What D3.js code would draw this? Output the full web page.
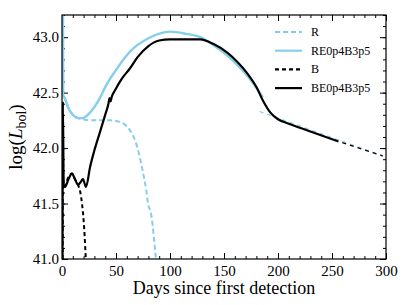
<!DOCTYPE html>
<html>
<head>
<meta charset="utf-8">
<script src="https://cdn.jsdelivr.net/npm/d3@7"></script>
<style>
    body { margin: 0; background: #fff; }
    svg { display: block; font-family: "Liberation Serif", "DejaVu Serif", serif; }
</style>
</head>
<body>
<div id="chart"></div>
<script>
const margins = {
    top: 15,
    left: 62,
    right: 21,
    bottom: 46
}
const width = 407 - margins.left - margins.right;
const height = 305 - margins.top - margins.bottom;
const serif = "'Liberation Serif', 'DejaVu Serif', serif";

const blue = "#87ceeb";

// curves (days since detection, log L_bol)
const rDays = [0.9, 1.1, 3, 6, 10, 15, 19, 25, 35, 45, 52, 57, 63, 68, 72, 75, 78, 80, 82, 84, 85.5, 87];
const rLog = [43.4, 42.48, 42.44, 42.36, 42.3, 42.27, 42.26, 42.25, 42.25, 42.25, 42.24, 42.22, 42.16, 42.06, 41.92, 41.78, 41.62, 41.48, 41.43, 41.3, 41.15, 41.0];

const reDays = [0.9, 1.1, 3, 6, 10, 15, 19, 25, 30, 35, 40, 49, 63, 80, 100, 115, 128, 140, 156, 170, 186];
const reLog = [43.4, 42.48, 42.44, 42.36, 42.3, 42.27, 42.27, 42.31, 42.37, 42.45, 42.55, 42.69, 42.87, 42.99, 43.05, 43.03, 43.0, 42.93, 42.81, 42.67, 42.46];

const bDays = [0.6, 0.8, 1.3, 2.8, 6, 9.3, 12, 14.8, 17, 18.5, 20, 21, 22];
const bLog = [41.0, 42.0, 41.63, 41.66, 41.74, 41.77, 41.72, 41.67, 41.6, 41.5, 41.35, 41.2, 41.0];

const beDays = [0.5, 0.8, 1.6, 2.8, 6, 9.3, 12, 14.8, 17, 19.4, 22.2, 26, 30, 35, 40, 43, 44, 45, 46, 49, 55, 63, 70, 80, 90, 100, 115, 128, 140, 153, 162, 171, 180, 186, 193, 200, 210, 230, 256];
const beLog = [41.0, 42.42, 41.66, 41.65, 41.72, 41.77, 41.72, 41.67, 41.69, 41.72, 41.65, 41.83, 41.98, 42.14, 42.3, 42.4, 42.45, 42.42, 42.46, 42.52, 42.62, 42.72, 42.82, 42.92, 42.97, 42.98, 42.98, 42.98, 42.94, 42.86, 42.78, 42.68, 42.55, 42.43, 42.32, 42.26, 42.22, 42.15, 42.06];

// thin dashed late-time tail
const tailDays = [183, 297];
const tailLog = [42.33, 41.93];

const legendNames = ["R", "RE0p4B3p5", "B", "BE0p4B3p5"];
const legendColors = [blue, blue, "#000", "#000"];
const legendDashes = ["5,3", null, "4,3", null];

const xMajor = [0, 50, 100, 150, 200, 250, 300];
const xMinor = d3.range(0, 301, 10);
const yMajor = [41.0, 41.5, 42.0, 42.5, 43.0];
const yMinor = d3.range(41.0, 43.21, 0.1);

const svg = d3.select("#chart")
    .append("svg")
        .attr("width", width + margins.left + margins.right)
        .attr("height", height + margins.top + margins.bottom);

const chart = svg.append("g")
    .attr("transform", `translate(${margins.left}, ${margins.top})`);

const x = d3.scaleLinear().domain([0, 300]).range([0, width]);
const y = d3.scaleLinear().domain([41.0, 43.2]).range([height, 0]);

chart.append("clipPath")
    .attr("id", "plotClip")
    .append("rect")
        .attr("width", width)
        .attr("height", height);

// axes: inward ticks on all four sides, no domain line (frame drawn later)
function styleAxis(g) {
    g.attr("font-family", serif).attr("font-size", 15);
    g.select(".domain").remove();
    g.selectAll("line").attr("stroke", "#000");
    g.selectAll("text")
        .attr("fill", "#000")
        .style("font-family", serif)
        .style("font-size", "15px");
}

chart.append("g")
    .attr("transform", `translate(0, ${height})`)
    .call(d3.axisBottom(x).tickValues(xMajor).tickSizeInner(-6).tickSizeOuter(0).tickPadding(6))
    .call(styleAxis);
chart.append("g")
    .attr("transform", `translate(0, ${height})`)
    .call(d3.axisBottom(x).tickValues(xMinor).tickSizeInner(-3).tickSizeOuter(0).tickFormat(""))
    .call(styleAxis);
chart.append("g")
    .call(d3.axisTop(x).tickValues(xMajor).tickSizeInner(-6).tickSizeOuter(0).tickFormat(""))
    .call(styleAxis);
chart.append("g")
    .call(d3.axisTop(x).tickValues(xMinor).tickSizeInner(-3).tickSizeOuter(0).tickFormat(""))
    .call(styleAxis);

chart.append("g")
    .call(d3.axisLeft(y).tickValues(yMajor).tickSizeInner(-6).tickSizeOuter(0).tickPadding(3).tickFormat(d3.format(".1f")))
    .call(styleAxis);
chart.append("g")
    .call(d3.axisLeft(y).tickValues(yMinor).tickSizeInner(-3).tickSizeOuter(0).tickFormat(""))
    .call(styleAxis);
chart.append("g")
    .attr("transform", `translate(${width}, 0)`)
    .call(d3.axisRight(y).tickValues(yMajor).tickSizeInner(-6).tickSizeOuter(0).tickFormat(""))
    .call(styleAxis);
chart.append("g")
    .attr("transform", `translate(${width}, 0)`)
    .call(d3.axisRight(y).tickValues(yMinor).tickSizeInner(-3).tickSizeOuter(0).tickFormat(""))
    .call(styleAxis);

// curves
const line = d3.line()
    .x(d => x(d[0]))
    .y(d => y(d[1]))
    .curve(d3.curveMonotoneX);

const curves = chart.append("g").attr("clip-path", "url(#plotClip)");

function drawCurve(days, logs, color, w, dash, offset) {
    curves.append("path")
        .datum(d3.zip(days, logs))
        .attr("d", line)
        .attr("fill", "none")
        .attr("stroke", color)
        .attr("stroke-width", w)
        .attr("stroke-dasharray", dash)
        .attr("stroke-dashoffset", offset || 0)
        .attr("stroke-linejoin", "round");
}

drawCurve(tailDays, tailLog, blue, 1.2, "4,4", 0);
drawCurve(rDays, rLog, blue, 2, "5,3");
drawCurve(reDays, reLog, blue, 2.4, null);
drawCurve(bDays, bLog, "#000", 2, "4,3");
drawCurve(beDays, beLog, "#000", 2.2, null);
drawCurve([256, 297], [42.06, 41.93], "#000", 1.2, "4,4", 4);

// frame
chart.append("rect")
    .attr("width", width)
    .attr("height", height)
    .attr("fill", "none")
    .attr("stroke", "#000")
    .attr("stroke-width", 1.2);

// axis labels
svg.append("text")
    .attr("x", margins.left + width / 2)
    .attr("y", 294)
    .attr("text-anchor", "middle")
    .style("font-size", "18px")
    .text("Days since first detection");

const yLabel = svg.append("text")
    .attr("transform", `translate(22, ${margins.top + height / 2}) rotate(-90)`)
    .attr("text-anchor", "middle")
    .style("font-size", "19px");
yLabel.append("tspan").text("log(");
yLabel.append("tspan").attr("font-style", "italic").text("L");
yLabel.append("tspan").attr("dy", 4).style("font-size", "14px").text("bol");
yLabel.append("tspan").attr("dy", -4).text(")");

// legend
const legend = svg.append("g");
legendNames.forEach((name, i) => {
    const ly = 32 + i * 18.7;
    legend.append("line")
        .attr("x1", 275).attr("x2", 302)
        .attr("y1", ly).attr("y2", ly)
        .attr("stroke", legendColors[i])
        .attr("stroke-width", 2.2)
        .attr("stroke-dasharray", legendDashes[i]);
    legend.append("text")
        .attr("x", 311)
        .attr("y", ly + 4)
        .style("font-size", "12px")
        .text(name);
});
</script>
</body>
</html>
